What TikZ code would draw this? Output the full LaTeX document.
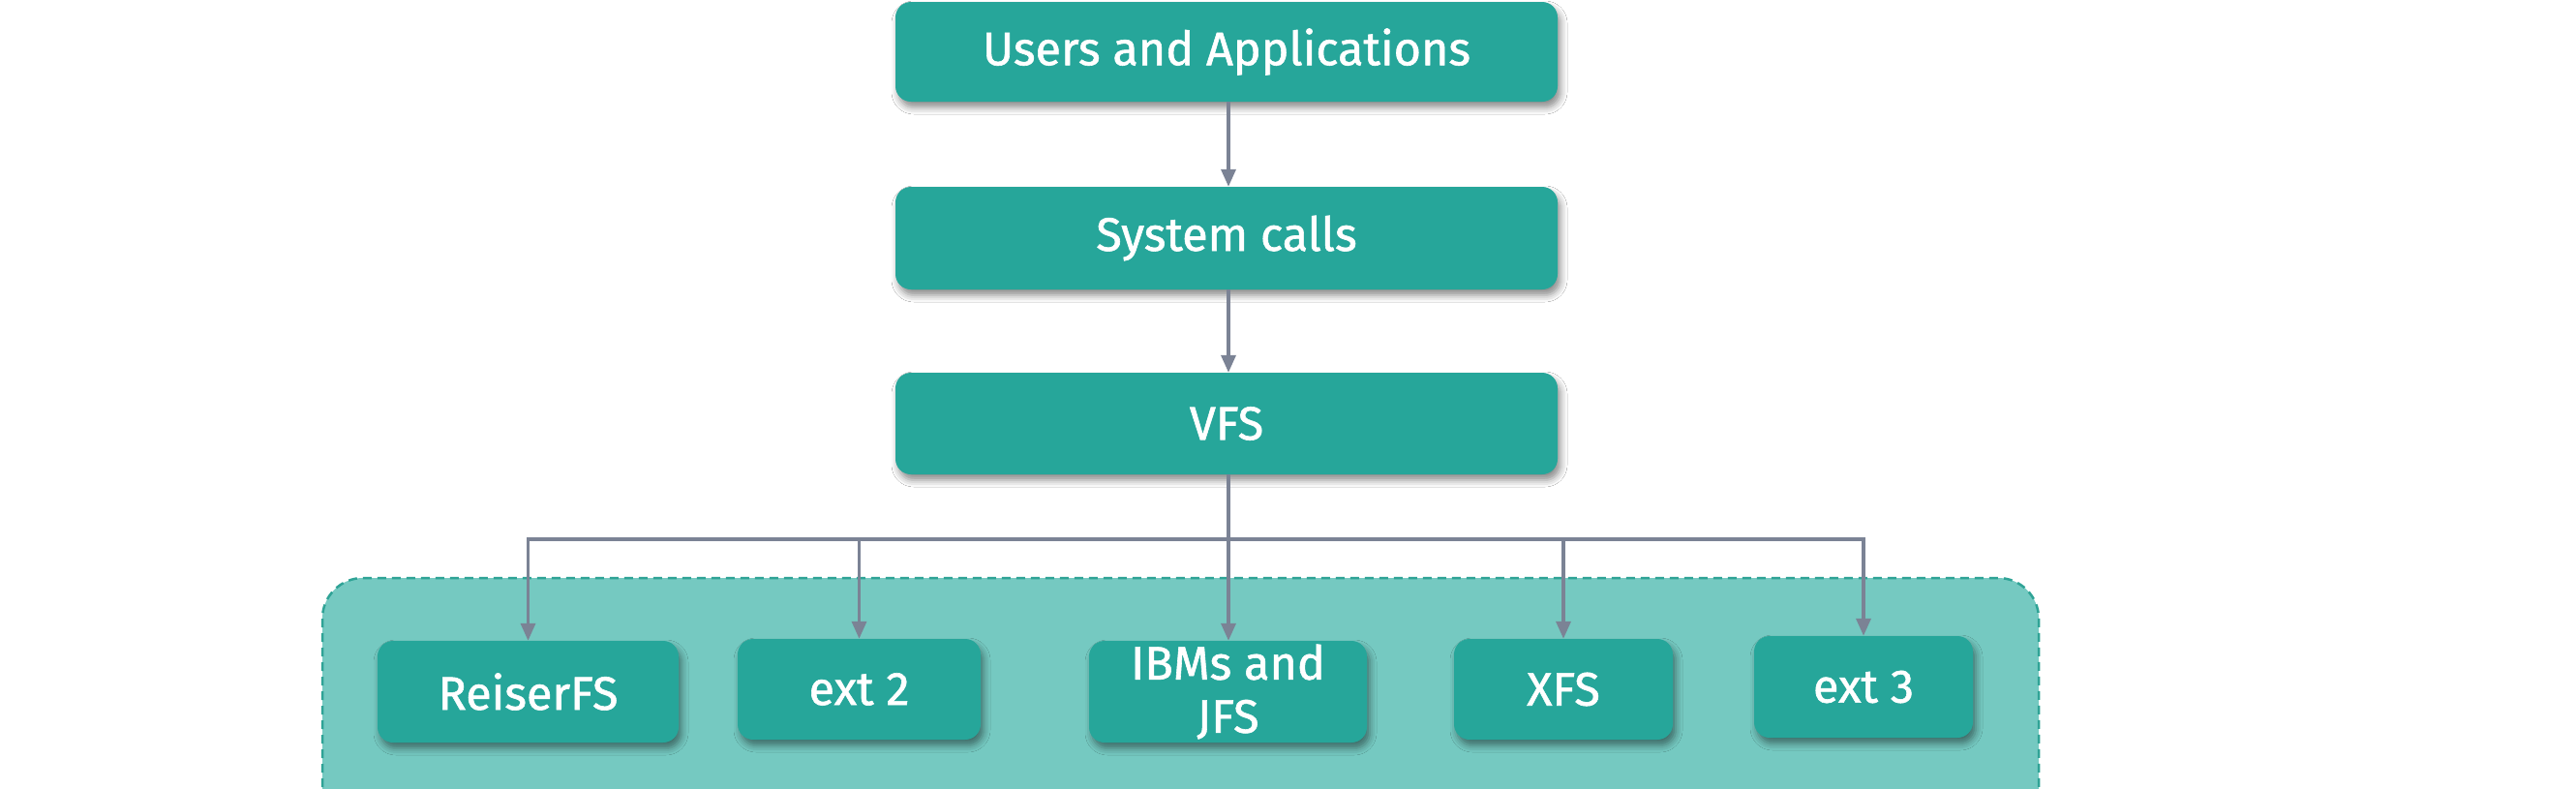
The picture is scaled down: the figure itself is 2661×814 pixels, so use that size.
\documentclass[tikz,border=0pt]{standalone}
\usepackage{fontspec}
\setmainfont{Fira Sans}
\newfontfamily\boxfont{Fira Sans}[FakeBold=1.2]
\usetikzlibrary{arrows.meta,shadows.blur}
\definecolor{boxteal}{HTML}{26A69A}
\definecolor{areateal}{HTML}{75C9C1}
\definecolor{dashteal}{HTML}{2FA396}
\definecolor{linegray}{HTML}{7B8395}
\tikzset{
  fsbox/.style={draw=none, fill=boxteal, rounded corners=16pt, text=white,
    inner sep=0pt, align=center, font=\boxfont\fontsize{48.5}{55}\selectfont,
    blur shadow={shadow xshift=3pt, shadow yshift=-6pt, shadow blur radius=7pt, shadow opacity=45}},
  conn/.style={draw=linegray, line width=3.5pt, -{Triangle[width=15pt,length=18pt]}},
  plain/.style={draw=linegray, line width=3.5pt}
}
\begin{document}
\begin{tikzpicture}[x=1pt,y=-1pt]
\useasboundingbox (0,0) rectangle (2661,814);
\clip (0,0) rectangle (2661,814);
\fill[white] (0,0) rectangle (2661,814);
% container
\draw[fill=areateal, draw=dashteal, dashed, dash pattern=on 9pt off 6pt, line width=2.5pt, rounded corners=42pt]
  (333,597) rectangle (2106,900);
% nodes
\node[fsbox, minimum width=684pt, minimum height=103pt] (users) at (1267,53.5) {Users and Applications};
\node[fsbox, minimum width=684pt, minimum height=106pt] (sys) at (1267,246) {System calls};
\node[fsbox, minimum width=684pt, minimum height=105pt] (vfs) at (1267,437.5) {VFS};
\node[fsbox, minimum width=311pt, minimum height=105pt] (reiser) at (545.5,714.5) {ReiserFS};
\node[fsbox, minimum width=251pt, minimum height=104pt] (ext2) at (887.5,712) {ext 2};
\node[fsbox, minimum width=287pt, minimum height=105pt] (ibm) at (1268.5,714.5) {IBMs and\\JFS};
\node[fsbox, minimum width=226pt, minimum height=104pt] (xfs) at (1615,712) {XFS};
\node[fsbox, minimum width=226pt, minimum height=105pt] (ext3) at (1925,709.5) {ext 3};
% connectors
\coordinate (hub) at (1269,557);
\draw[conn] (users.south -| hub) -- (sys.north -| hub);
\draw[conn] (sys.south -| hub) -- (vfs.north -| hub);
\draw[plain] (vfs.south -| hub) -- (hub);
\draw[conn] (hub) -| (reiser.north);
\draw[conn] (hub) -| (ext2.north);
\draw[conn] (hub) -- (ibm.north -| hub);
\draw[conn] (hub) -| (xfs.north);
\draw[conn] (hub) -| (ext3.north);
\end{tikzpicture}
\end{document}
